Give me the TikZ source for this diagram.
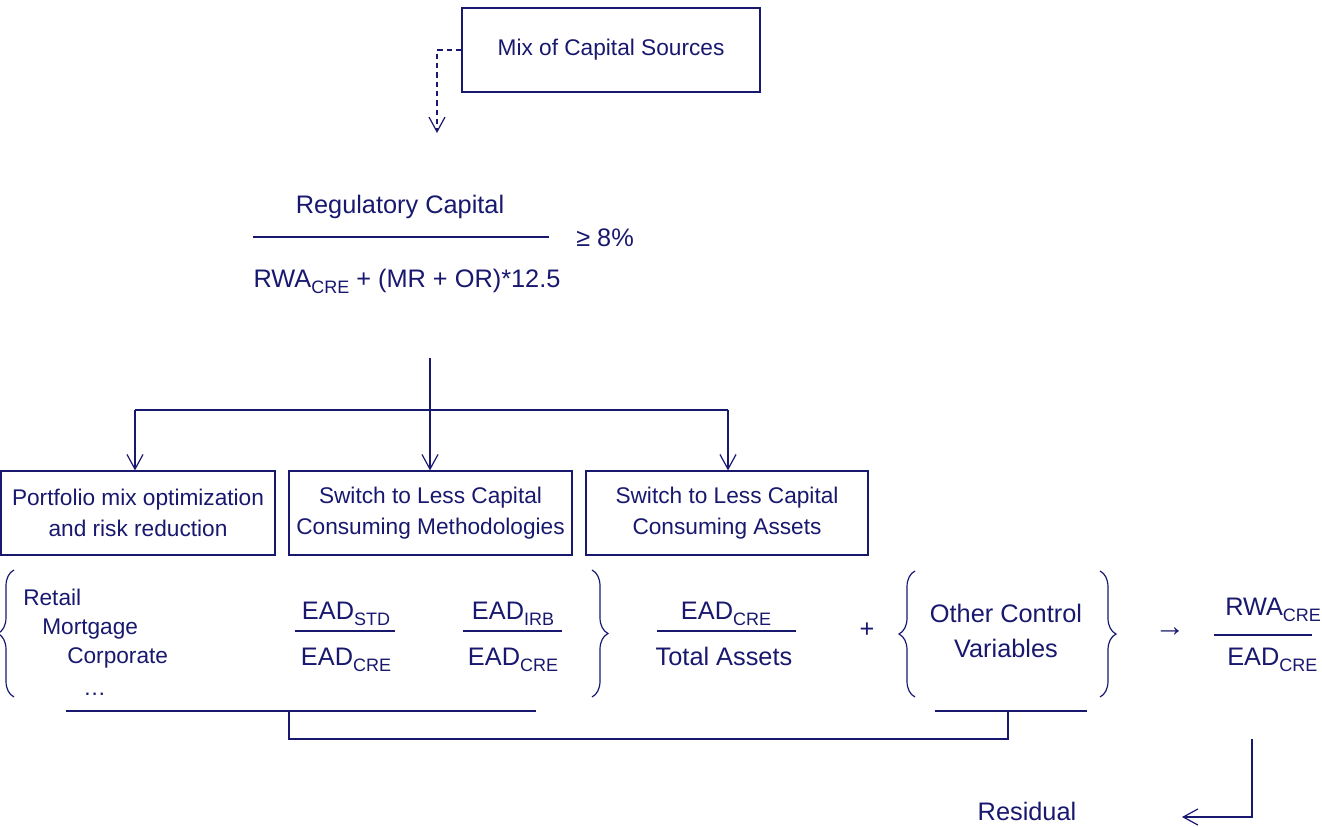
\documentclass[tikz,border=0pt]{standalone}
\usepackage{fontspec}
\setmainfont{Liberation Sans}
\usetikzlibrary{arrows.meta,decorations.pathreplacing,positioning}

\definecolor{navy}{RGB}{24,24,110}
\newcommand{\sub}[1]{\raisebox{-4.5pt}{\fontsize{13.5}{14}\selectfont #1}}

\tikzset{
  txt/.style={text=navy, inner sep=0pt, font=\fontsize{17}{23}\selectfont},
  bigtxt/.style={txt, font=\fontsize{19}{26}\selectfont},
  box/.style={draw=navy, line width=0.9pt, text=navy, align=center,
    minimum height=63pt, font=\fontsize{17}{23}\selectfont},
  conn/.style={draw=navy, line width=0.9pt},
  arr/.style={conn, -{Straight Barb[length=11pt,width=12pt]}},
  curly/.style={conn, decorate, decoration={brace, amplitude=12pt}}
}

\begin{document}
\begin{tikzpicture}[x=0.75pt, y=-0.75pt]
\useasboundingbox (0,0) rectangle (1322,826);

% capital sources
\node[box, minimum width=223.5pt] (mix) at (611,50) {Mix of Capital Sources};
\coordinate (dtip) at (437,133);
\draw[arr, dashed, dash pattern=on 4pt off 3pt] (mix.west) -| (dtip);

% capital ratio
\node[bigtxt, anchor=base] (regcap) at (400,213) {Regulatory Capital};
\node[bigtxt, anchor=base] (rwa) at (407,287) {RWA\sub{CRE} + (MR + OR)*12.5};
\coordinate (bar1l) at (253,237);
\coordinate (bar1r) at (549,237);
\draw[conn] (bar1l) -- (bar1r);
\node[bigtxt, anchor=base west] (ratio) at (576,246) {≥ 8\%};

% levers
\node[box, minimum width=205.5pt] (mixopt) at (138,513) {Portfolio mix optimization\\and risk reduction};
\node[box, minimum width=212.25pt] (method) at (430.5,513) {Switch to Less Capital\\Consuming Methodologies};
\node[box, minimum width=211.5pt] (assets) at (727,513) {Switch to Less Capital\\Consuming Assets};

\coordinate (stem) at (430,358);
\coordinate (forkl) at (135,410);
\coordinate (forkr) at (728,410);
\draw[arr] (stem) -- (stem |- method.north);
\draw[conn] (forkl) -- (forkr);
\draw[arr] (forkl) -- (forkl |- mixopt.north);
\draw[arr] (forkr) -- (forkr |- assets.north);

% regression terms
\node[txt, anchor=base west] (retail) at (23,605) {Retail};
\node[txt, anchor=base west] (mortgage) at (42,634) {Mortgage};
\node[txt, anchor=base west] (corporate) at (67,663) {Corporate};
\node[txt, anchor=base west] (etc) at (83,695) {…};

\node[bigtxt, anchor=base] (std) at (346,619) {EAD\sub{STD}};
\node[bigtxt, anchor=base] (crea) at (346,665) {EAD\sub{CRE}};
\coordinate (bar2l) at (295,631);
\coordinate (bar2r) at (395,631);
\draw[conn] (bar2l) -- (bar2r);

\node[bigtxt, anchor=base] (irb) at (513,619) {EAD\sub{IRB}};
\node[bigtxt, anchor=base] (creb) at (513,665) {EAD\sub{CRE}};
\coordinate (bar3l) at (463,631);
\coordinate (bar3r) at (562,631);
\draw[conn] (bar3l) -- (bar3r);

\node[bigtxt, anchor=base] (crec) at (726,619) {EAD\sub{CRE}};
\node[bigtxt, anchor=base] (total) at (724,665) {Total Assets};
\coordinate (bar4l) at (657,631);
\coordinate (bar4r) at (796,631);
\draw[conn] (bar4l) -- (bar4r);

\node[bigtxt] (plus) at (867,630) {+};
\node[bigtxt, align=center] (other) at (1006,631) {Other Control\\Variables};
\node[bigtxt, font=\fontsize{23}{23}\selectfont] (yields) at (1170,632) {→};

\node[bigtxt, anchor=base west] (rwacre) at (1225,615) {RWA\sub{CRE}};
\node[bigtxt, anchor=base west] (cred) at (1227,665) {EAD\sub{CRE}};
\coordinate (bar5l) at (1214,635);
\coordinate (bar5r) at (1312,635);
\draw[conn] (bar5l) -- (bar5r);

% braces
\draw[curly] (14,697) -- (14,570);
\draw[curly] (592,570) -- (592,697);
\draw[curly] (915,697) -- (915,571);
\draw[curly] (1100,571) -- (1100,697);

% underlines
\coordinate (ul1l) at (66,711);
\coordinate (ul1r) at (536,711);
\coordinate (ul1m) at (289,711);
\coordinate (ul2l) at (935,711);
\coordinate (ul2r) at (1087,711);
\coordinate (ul2m) at (1008,711);
\draw[conn] (ul1l) -- (ul1r);
\draw[conn] (ul2l) -- (ul2r);
\draw[conn] (ul1m) -- ++(0,28) -| (ul2m);

% residual
\node[bigtxt, anchor=base] (resid) at (1027,820) {Residual};
\coordinate (rdrop) at (1252,739);
\coordinate (rtip) at (1182,817);
\draw[arr] (rdrop) |- (rtip);
\end{tikzpicture}
\end{document}
